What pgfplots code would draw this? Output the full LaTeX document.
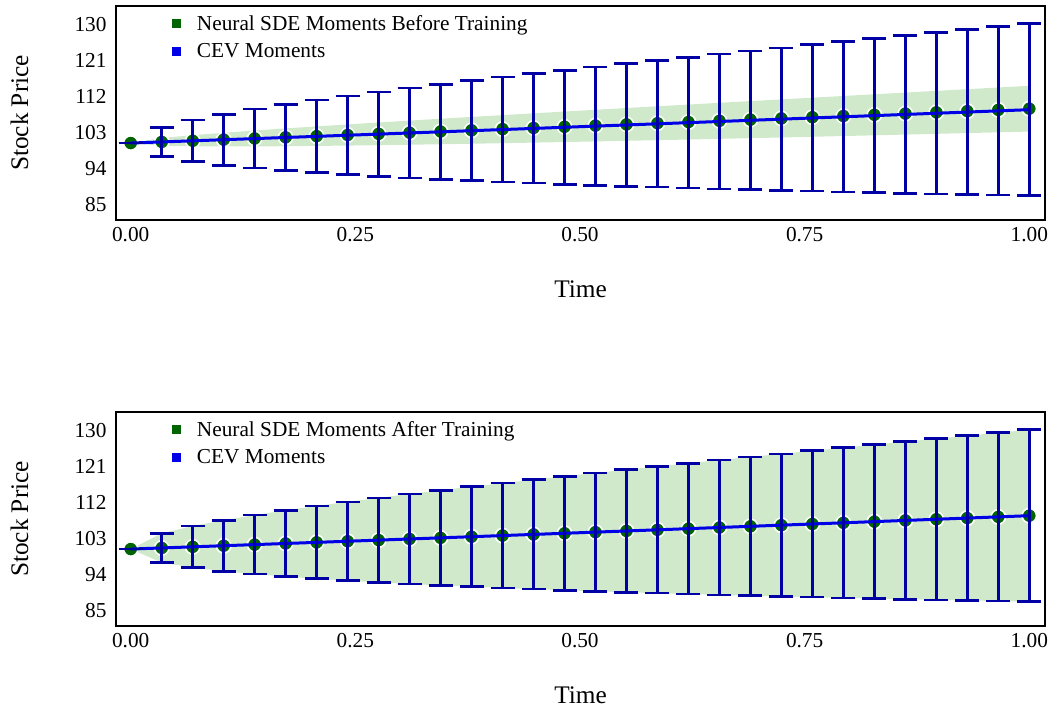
\documentclass[border=0pt]{standalone}
\usepackage{fontspec}
\setmainfont{Liberation Serif}
\usepackage{pgfplots}
\usepackage{pgfplotstable}
\pgfplotsset{compat=1.18}
\usepgfplotslibrary{fillbetween}

\definecolor{cevline}{RGB}{0,0,230}
\definecolor{cevbar}{RGB}{0,0,165}
\definecolor{sdedot}{RGB}{0,100,0}
\definecolor{sdeband}{RGB}{208,233,203}

% t: time, m/s: CEV mean and std, gB/nB: neural SDE mean and std before training,
% gA/nA: neural SDE mean and std after training
\pgfplotstableread{
t      m       s       gB      nB     gA      nA
0.0000 100.000 0.000   100.000 0.000  100.000 0.000
0.0345 100.276 3.650   100.285 0.981  100.276 3.650
0.0690 100.553 5.178   100.570 1.392  100.553 5.178
0.1034 100.831 6.361   100.857 1.709  100.831 6.361
0.1379 101.110 7.368   101.144 1.979  101.110 7.368
0.1724 101.389 8.263   101.432 2.219  101.389 8.263
0.2069 101.669 9.080   101.721 2.437  101.669 9.080
0.2414 101.950 9.838   102.010 2.640  101.950 9.838
0.2759 102.231 10.550  102.300 2.830  102.231 10.550
0.3103 102.514 11.224  102.591 3.010  102.514 11.224
0.3448 102.797 11.868  102.883 3.181  102.797 11.868
0.3793 103.081 12.486  103.176 3.346  103.081 12.486
0.4138 103.366 13.082  103.469 3.504  103.366 13.082
0.4483 103.651 13.658  103.763 3.657  103.651 13.658
0.4828 103.938 14.217  104.058 3.806  103.938 14.217
0.5172 104.225 14.762  104.354 3.950  104.225 14.762
0.5517 104.513 15.293  104.651 4.091  104.513 15.293
0.5862 104.801 15.813  104.947 4.229  104.801 15.813
0.6207 105.091 16.322  105.246 4.363  105.091 16.322
0.6552 105.381 16.821  105.544 4.495  105.381 16.821
0.6897 105.672 17.311  105.844 4.625  105.672 17.311
0.7241 105.964 17.794  106.145 4.752  105.964 17.794
0.7586 106.257 18.269  106.446 4.877  106.257 18.269
0.7931 106.550 18.737  106.748 5.001  106.550 18.737
0.8276 106.845 19.199  107.051 5.122  106.845 19.199
0.8621 107.140 19.656  107.355 5.242  107.140 19.656
0.8966 107.436 20.107  107.660 5.361  107.436 20.107
0.9310 107.733 20.554  107.965 5.478  107.733 20.554
0.9655 108.030 20.995  108.271 5.594  108.030 20.995
1.0000 108.329 21.433  108.578 5.709  108.329 21.433
}\moments

\pgfplotsset{
  momentaxis/.style={
    scale only axis, width=929pt, height=214pt,
    xmin=-0.0164, xmax=1.0175, ymin=80.8, ymax=134.2,
    clip marker paths=true,
    xtick={0,0.25,0.5,0.75,1}, xticklabels={0.00,0.25,0.50,0.75,1.00},
    ytick={85,94,103,112,121,130},
    major tick length=0pt,
    axis line style={line width=1.6pt},
    tick label style={font=\fontsize{21.3}{25}\selectfont},
    xticklabel style={yshift=-4pt},
    yticklabel style={xshift=-6pt, yshift=-1.5pt},
    /pgf/number format/assume math mode=true,
    label style={font=\fontsize{25.3}{30}\selectfont},
    xlabel={Time}, ylabel={Stock Price},
    xlabel style={at={(axis description cs:0.5,-0.322)}, anchor=center},
    ylabel style={at={(axis description cs:-0.1039,0.5)}, anchor=center},
    legend style={at={(axis description cs:0.06,0.968)}, anchor=north west,
      draw=none, fill=none, inner sep=0pt, row sep=8pt,
      font=\fontsize{21.3}{25}\selectfont,
      /tikz/every odd column/.append style={column sep=15pt}},
    legend cell align=left,
  },
  sqimg/.style={legend image code/.code={\fill[#1] (0pt,-3.8pt) rectangle (7.6pt,3.8pt);}},
  cevbars/.style={cevline, line width=3pt, mark=none, forget plot,
    error bars/.cd, y dir=both, y explicit, error mark=|,
    error bar style={cevbar, line width=2.6pt},
    error mark options={cevbar, line width=2.6pt, mark size=12pt}},
  sdedots/.style={only marks, mark=*, mark size=7.2pt,
    mark options={fill=sdedot, draw=white, line width=1.6pt}, forget plot},
}

\begin{document}
\begin{tikzpicture}
% page frame
\path (0,0) rectangle (1055pt,713pt);

% before training
\begin{axis}[momentaxis, at={(116pt,493pt)}, anchor=south west]
  \addlegendimage{sqimg=sdedot}
  \addlegendentry{Neural SDE Moments Before Training}
  \addlegendimage{sqimg=cevline}
  \addlegendentry{CEV Moments}
  \addplot[name path=up, draw=none, forget plot] table[x=t, y expr=\thisrow{gB}+\thisrow{nB}] {\moments};
  \addplot[name path=lo, draw=none, forget plot] table[x=t, y expr=\thisrow{gB}-\thisrow{nB}] {\moments};
  \addplot[sdeband, forget plot] fill between[of=up and lo];
  \addplot[sdedots] table[x=t, y=gB] {\moments};
  \addplot[cevbars] table[x=t, y=m, y error=s] {\moments};
\end{axis}

% after training
\begin{axis}[momentaxis, at={(116pt,87pt)}, anchor=south west]
  \addlegendimage{sqimg=sdedot}
  \addlegendentry{Neural SDE Moments After Training}
  \addlegendimage{sqimg=cevline}
  \addlegendentry{CEV Moments}
  \addplot[name path=up, draw=none, forget plot] table[x=t, y expr=\thisrow{gA}+\thisrow{nA}] {\moments};
  \addplot[name path=lo, draw=none, forget plot] table[x=t, y expr=\thisrow{gA}-\thisrow{nA}] {\moments};
  \addplot[sdeband, forget plot] fill between[of=up and lo];
  \addplot[sdedots] table[x=t, y=gA] {\moments};
  \addplot[cevbars] table[x=t, y=m, y error=s] {\moments};
\end{axis}
\end{tikzpicture}
\end{document}
